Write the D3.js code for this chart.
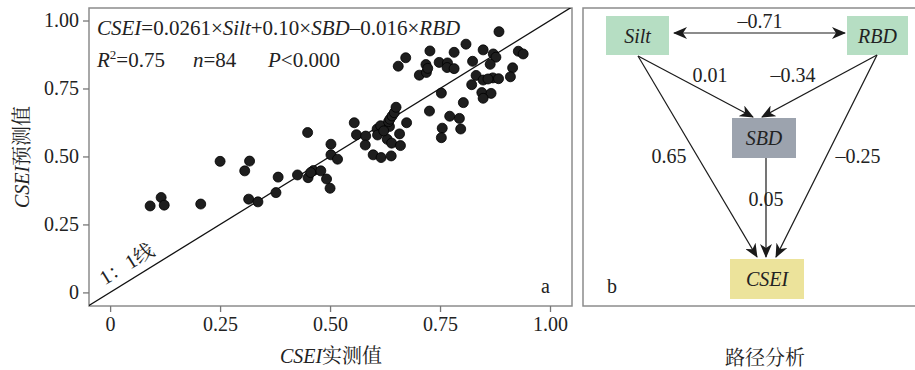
<!DOCTYPE html>
<html><head><meta charset="utf-8">
<script src="https://cdn.jsdelivr.net/npm/d3@7/dist/d3.min.js"></script>
<style>
html,body{margin:0;padding:0;background:#fff;}
svg{display:block;}
text{font-family:"Liberation Serif","Noto Serif CJK SC","Noto Sans CJK SC",serif;fill:#222;}
</style></head>
<body><svg id="c" width="915" height="370"></svg>
<script>
// ---------- data ----------
const observed = [0.091,0.116,0.123,0.206,0.250,0.317,0.306,0.315,0.336,0.382,0.377,0.426,0.449,0.450,0.462,0.479,0.492,0.500,0.502,0.502,0.517,
  0.555,0.560,0.581,0.580,0.598,0.616,0.639,0.607,0.615,0.608,0.635,0.633,0.636,0.641,0.646,0.650,0.674,0.658,0.630,0.640,0.660,0.655,0.672,0.703,0.718,0.719,0.727,0.726,
  0.884,0.809,0.782,0.848,0.871,0.877,0.928,0.939,0.748,0.767,0.766,0.782,0.824,0.864,0.915,0.910,0.832,0.848,0.822,0.870,0.883,0.753,0.845,0.866,0.848,0.803,0.772,0.794,0.755,0.797,0.753,
  0.456,0.622,0.859,0.722];
const predicted = [0.318,0.349,0.321,0.325,0.482,0.483,0.447,0.343,0.333,0.424,0.367,0.432,0.588,0.422,0.448,0.447,0.417,0.383,0.545,0.506,0.490,
  0.624,0.580,0.575,0.542,0.506,0.496,0.502,0.601,0.613,0.579,0.610,0.628,0.637,0.649,0.661,0.681,0.624,0.583,0.563,0.549,0.540,0.832,0.863,0.799,0.838,0.809,0.888,0.667,
  0.959,0.913,0.883,0.892,0.877,0.865,0.887,0.877,0.846,0.844,0.827,0.823,0.850,0.839,0.826,0.793,0.798,0.781,0.764,0.789,0.786,0.733,0.735,0.732,0.714,0.698,0.648,0.640,0.604,0.601,0.569,
  0.441,0.594,0.785,0.824];
const tickValues = [0, 0.25, 0.5, 0.75, 1];
const tickLabels = ["0", "0.25", "0.50", "0.75", "1.00"];
const xTitle = [["CSEI",true],["实测值",false]];
const yTitle = [["CSEI",true],["预测值",false]];
const equation = [["CSEI",true],["=0.0261×",false],["Silt",true],["+0.10×",false],["SBD",true],["–0.016×",false],["RBD",true]];
const statR2 = "0.75", statN = "84", statP = "<0.000";
const nodes = ["Silt","RBD","SBD","CSEI"];
const edges = [
  {from:"Silt", to:"RBD", coef:"–0.71", both:true},
  {from:"Silt", to:"SBD", coef:"0.01"},
  {from:"RBD", to:"SBD", coef:"–0.34"},
  {from:"Silt", to:"CSEI", coef:"0.65"},
  {from:"RBD", to:"CSEI", coef:"–0.25"},
  {from:"SBD", to:"CSEI", coef:"0.05"}
];

// ---------- layout ----------
const svg = d3.select("#c");
const F = 20;
const frameA = {x0:89, x1:572, y0:8, y1:306};
const x = d3.scaleLinear().domain([-0.048, 1.050]).range([frameA.x0, frameA.x1]);
const y = d3.scaleLinear().domain([-0.050, 1.046]).range([frameA.y1, frameA.y0]);

function mixed(sel, parts){
  parts.forEach(p => sel.append("tspan").attr("font-style", p[1] ? "italic" : "normal").text(p[0]));
  return sel;
}

// panel a frame
svg.append("rect").attr("x",frameA.x0).attr("y",frameA.y0)
  .attr("width",frameA.x1-frameA.x0).attr("height",frameA.y1-frameA.y0)
  .attr("fill","none").attr("stroke","#8c8c8c").attr("stroke-width",1.5);

// axes
const xAxis = d3.axisBottom(x).tickValues(tickValues).tickFormat((d,i)=>tickLabels[i]).tickSizeOuter(0).tickSize(6).tickPadding(5);
const gx = svg.append("g").attr("transform",`translate(0,${frameA.y1})`).call(xAxis);
gx.select(".domain").remove();
gx.selectAll(".tick line").attr("stroke","#777").attr("stroke-width",1.3);
gx.selectAll(".tick text").attr("font-size",F).attr("font-family","Liberation Serif").attr("fill","#333");

const yAxis = d3.axisLeft(y).tickValues(tickValues).tickFormat((d,i)=>tickLabels[i]).tickSizeOuter(0).tickSize(6).tickPadding(4);
const gy = svg.append("g").attr("transform",`translate(${frameA.x0},0)`).call(yAxis);
gy.select(".domain").remove();
gy.selectAll(".tick line").attr("stroke","#777").attr("stroke-width",1.3);
gy.selectAll(".tick text").attr("font-size",F).attr("font-family","Liberation Serif").attr("fill","#333");

// axis titles
mixed(svg.append("text").attr("x",331).attr("y",363).attr("text-anchor","middle").attr("font-size",F), xTitle);
mixed(svg.append("text").attr("transform","translate(29,157) rotate(-90)").attr("text-anchor","middle").attr("font-size",F), yTitle);

// clip
svg.append("clipPath").attr("id","clipA").append("rect")
  .attr("x",frameA.x0).attr("y",frameA.y0).attr("width",frameA.x1-frameA.x0).attr("height",frameA.y1-frameA.y0);

// 1:1 line
svg.append("line").attr("clip-path","url(#clipA)")
  .attr("x1",x(-0.05)).attr("y1",y(-0.05)).attr("x2",x(1.05)).attr("y2",y(1.05))
  .attr("stroke","#111").attr("stroke-width",1.3);

// label 1:1
const ang = -Math.atan((y(0)-y(1))/(x(1)-x(0)))*180/Math.PI;
svg.append("text").attr("transform",`translate(${x(-0.012)},${y(0.025)}) rotate(${ang})`)
  .attr("font-size",F).attr("fill","#333").text("1：1线");

// points
svg.append("g").selectAll("circle").data(observed.map((v,i)=>[v,predicted[i]])).join("circle")
  .attr("cx",d=>x(d[0])).attr("cy",d=>y(d[1])).attr("r",5)
  .attr("fill","#1e1e1e").attr("stroke","#000").attr("stroke-width",0.8);

// equation & stats
mixed(svg.append("text").attr("x",97).attr("y",35).attr("font-size",21), equation);
const st = svg.append("text").attr("x",97).attr("y",67).attr("font-size",21);
st.append("tspan").attr("font-style","italic").text("R");
st.append("tspan").attr("font-size",13).attr("dy",-8).text("2");
st.append("tspan").attr("dy",8).text("="+statR2);
const st2 = svg.append("text").attr("x",193).attr("y",67).attr("font-size",21);
st2.append("tspan").attr("font-style","italic").text("n");
st2.append("tspan").text("="+statN);
const st3 = svg.append("text").attr("x",268).attr("y",67).attr("font-size",21);
st3.append("tspan").attr("font-style","italic").text("P");
st3.append("tspan").text(statP);

svg.append("text").attr("x",541).attr("y",293).attr("font-size",F).text("a");

// ---------- panel b ----------
svg.append("rect").attr("x",583).attr("y",8).attr("width",340).attr("height",298)
  .attr("fill","none").attr("stroke","#8c8c8c").attr("stroke-width",1.5);

const boxes = {
  Silt:{x:606,y:16,w:63,h:39,fill:"#b6dec3"},
  RBD:{x:847,y:16,w:61,h:39,fill:"#b6dec3"},
  SBD:{x:732,y:118,w:64,h:40,fill:"#9ca3ae"},
  CSEI:{x:730,y:259,w:74,h:40,fill:"#ece39b"}
};
const edgeGeom = {
  "Silt-RBD":{x1:674,y1:33,x2:845,y2:33,lx:760,ly:28},
  "Silt-SBD":{x1:638,y1:56,x2:753,y2:117,lx:710,ly:82},
  "RBD-SBD":{x1:877,y1:55,x2:762,y2:117,lx:793,ly:82},
  "Silt-CSEI":{x1:638,y1:56,x2:757,y2:257,lx:669,ly:163},
  "RBD-CSEI":{x1:877,y1:55,x2:776,y2:257,lx:858,ly:163},
  "SBD-CSEI":{x1:766,y1:158,x2:766,y2:257,lx:766,ly:206}
};

const defs = svg.append("defs");
defs.append("marker").attr("id","arr").attr("markerUnits","userSpaceOnUse")
  .attr("markerWidth",14).attr("markerHeight",12).attr("refX",13).attr("refY",6)
  .attr("orient","auto-start-reverse")
  .append("path").attr("d","M0,0 L14,6 L0,12 L4,6 Z").attr("fill","#1a1a1a");

svg.append("g").selectAll("rect").data(nodes).join("rect")
  .attr("x",d=>boxes[d].x).attr("y",d=>boxes[d].y).attr("width",d=>boxes[d].w).attr("height",d=>boxes[d].h)
  .attr("fill",d=>boxes[d].fill);
svg.append("g").selectAll("text").data(nodes).join("text")
  .attr("x",d=>boxes[d].x+boxes[d].w/2).attr("y",d=>boxes[d].y+boxes[d].h/2+7)
  .attr("text-anchor","middle").attr("font-size",F).attr("font-style","italic").attr("fill","#333").text(d=>d);

svg.append("g").selectAll("line").data(edges).join("line")
  .each(function(d){
    const g = edgeGeom[d.from+"-"+d.to];
    d3.select(this).attr("x1",g.x1).attr("y1",g.y1).attr("x2",g.x2).attr("y2",g.y2);
  })
  .attr("stroke","#1a1a1a").attr("stroke-width",1.2)
  .attr("marker-end","url(#arr)")
  .attr("marker-start",d=>d.both?"url(#arr)":null);

svg.append("g").selectAll("text").data(edges).join("text")
  .attr("x",d=>edgeGeom[d.from+"-"+d.to].lx).attr("y",d=>edgeGeom[d.from+"-"+d.to].ly)
  .attr("text-anchor","middle").attr("font-size",F).attr("fill","#333").text(d=>d.coef);

svg.append("text").attr("x",607).attr("y",293).attr("font-size",F).text("b");
svg.append("text").attr("x",765).attr("y",365).attr("text-anchor","middle").attr("font-size",F).text("路径分析");
</script></body></html>
